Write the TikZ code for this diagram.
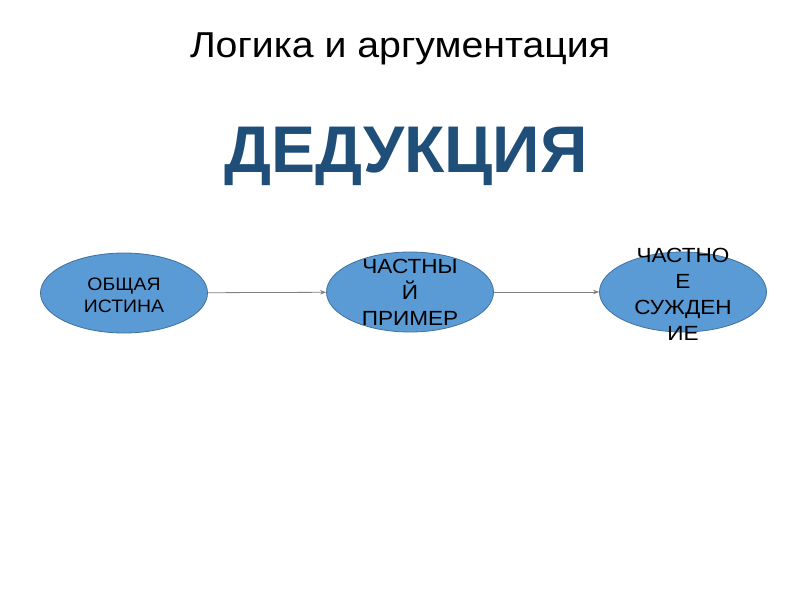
\documentclass[tikz,border=0pt]{standalone}
\usepackage{fontspec}
\setmainfont{Liberation Sans}
\usetikzlibrary{shapes.geometric,arrows.meta}
\definecolor{ellfill}{HTML}{5B9BD5}
\definecolor{elldraw}{HTML}{41719C}
\definecolor{titleblue}{HTML}{1F4E79}
\definecolor{arrowgray}{HTML}{808080}
\tikzset{
  oval/.style={ellipse, draw=elldraw, line width=0.8pt, fill=ellfill,
    minimum width=167pt, minimum height=80pt, inner sep=0pt},
  ovaltext/.style={align=center, anchor=base, xscale=1.08, inner sep=0pt, text=black},
  conn/.style={draw=arrowgray, line width=0.8pt, -{Stealth[length=6pt,width=4.5pt]}}
}
\begin{document}
\begin{tikzpicture}[x=1pt,y=-1pt]
\useasboundingbox[fill=white] (0,0) rectangle (800,600);
\node[anchor=base, xscale=1.09, inner sep=0pt] (title) at (400,57) {\fontsize{36}{40}\selectfont Логика и аргументация};
\node[anchor=base, inner sep=0pt] (ded) at (406,172) {\fontsize{66}{70}\selectfont\bfseries\color{titleblue}ДЕДУКЦИЯ};
\node[oval] (e1) at (124,293) {};
\node[oval] (e2) at (410,292) {};
\node[oval] (e3) at (683,292) {};
\node[ovaltext, font=\fontsize{18}{22}\selectfont] (t1) at (124,312) {ОБЩАЯ\\ИСТИНА};
\node[ovaltext, xscale=1.02, font=\fontsize{20.5}{26}\selectfont] (t2) at (410,325) {ЧАСТНЫ\\Й\\ПРИМЕР};
\node[ovaltext, xscale=1.02, font=\fontsize{20.5}{26}\selectfont] (t3) at (683,340) {ЧАСТНО\\Е\\СУЖДЕН\\ИЕ};
\draw[conn] (e1) -- (e2);
\draw[conn] (e2) -- (e3);
\end{tikzpicture}
\end{document}
